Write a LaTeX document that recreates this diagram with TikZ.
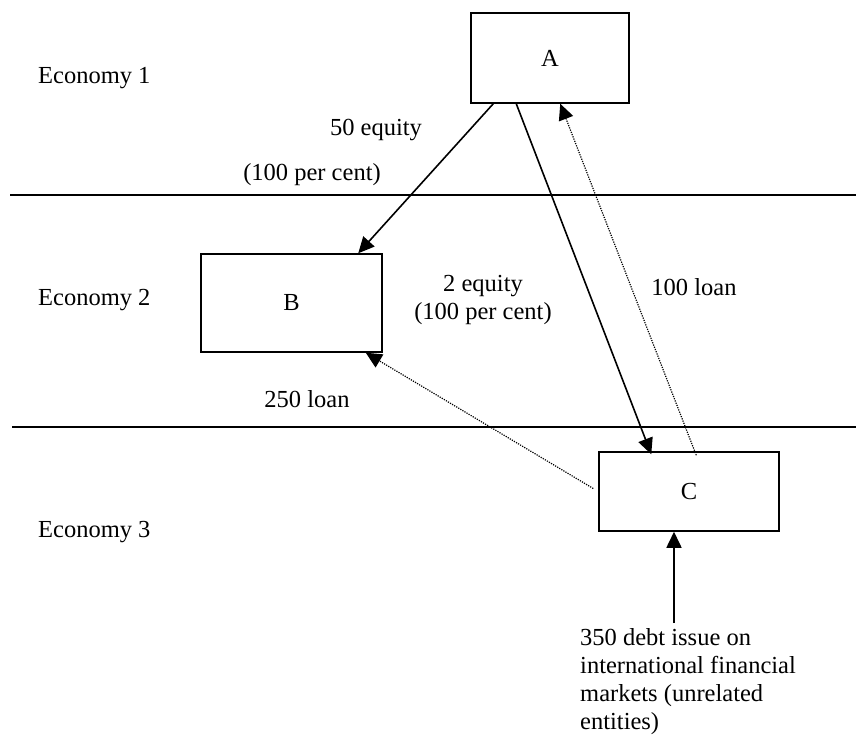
\documentclass[tikz,border=0pt]{standalone}
\usepackage{fontspec}
\setmainfont{Liberation Serif}
\usepackage{tikz}
\usetikzlibrary{arrows.meta, positioning, calc}

\begin{document}
\begin{tikzpicture}[
    x=1pt, y=-1pt,
    font=\fontsize{24.5}{28}\selectfont,
    entity/.style={rectangle, draw=black, line width=1.5pt, inner sep=0pt},
    label/.style={inner sep=0pt, align=center},
    divider/.style={line width=1.2pt},
    owns/.style={line width=1.6pt, -{Triangle[length=16pt,width=15pt]}},
    lends/.style={line width=1.2pt, dash pattern=on 1.2pt off 1.2pt, -{Triangle[length=16pt,width=15pt]}}
]
    \useasboundingbox (0,0) rectangle (856,746);

    % economies
    \coordinate (l1a) at (10,195);
    \coordinate (l1b) at (856,195);
    \coordinate (l2a) at (12,427);
    \coordinate (l2b) at (856,427);
    \draw [divider] (l1a) -- (l1b);
    \draw [divider] (l2a) -- (l2b);

    \node (eco1) [label, anchor=west] at (38,78) {Economy 1};
    \node (eco2) [label, anchor=west] at (38,300) {Economy 2};
    \node (eco3) [label, anchor=west] at (38,532) {Economy 3};

    % enterprises
    \node (A) [entity, minimum width=158pt, minimum height=90pt] at (550,58) {A};
    \node (B) [entity, minimum width=181pt, minimum height=98pt] at (291.5,303) {B};
    \node (C) [entity, minimum width=180pt, minimum height=79pt] at (689,491.5) {C};

    % flows
    \draw [owns] ([xshift=23pt]A.south west) -- ([xshift=158pt]B.north west);
    \draw [owns] ([xshift=46pt]A.south west) -- ([xshift=53pt,yshift=-3pt]C.north west);
    \draw [lends] ([xshift=98pt,yshift=-4pt]C.north west) -- ([xshift=90pt]A.south west);
    \draw [lends] ([xshift=-5pt,yshift=3pt]C.west) -- ([xshift=-17pt]B.south east);

    \coordinate (mkt) at (674,623);
    \draw [owns] (mkt) -- (mkt |- C.south);

    % amounts
    \node (eqAB) [label] at (376,130) {50 equity};
    \node (pcAB) [label] at (312,175) {(100 per cent)};
    \node (eqAC) [label] at (483,300) {2 equity\\(100 per cent)};
    \node (loanCA) [label] at (694,287) {100 loan};
    \node (loanCB) [label] at (307,399) {250 loan};
    \node (debt) [label, anchor=north west, align=left] at (580,628)
        {350 debt issue on\\international financial\\markets (unrelated\\entities)};
\end{tikzpicture}
\end{document}
